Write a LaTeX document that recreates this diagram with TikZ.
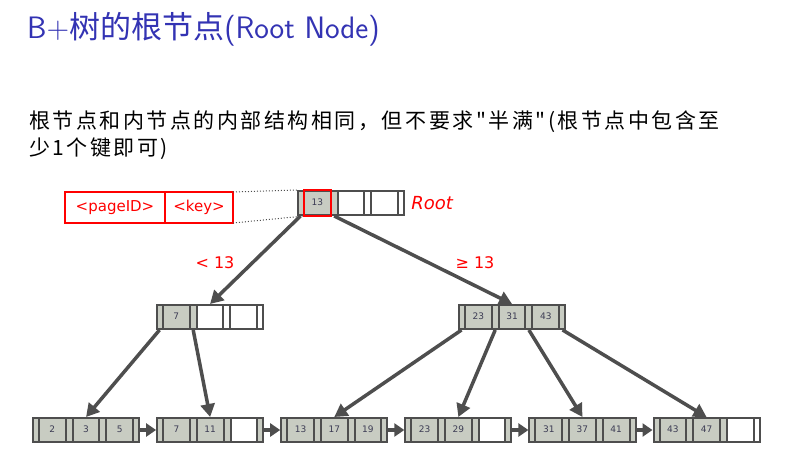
\documentclass[tikz,border=0pt]{standalone}
\usepackage{fontspec}
\newfontfamily\cjk{Noto Sans CJK SC}
\newfontfamily\cjkbody[LetterSpace=12]{Noto Sans CJK SC}
\newfontfamily\dejavu{DejaVu Sans}
\usetikzlibrary{shapes.multipart, arrows.meta, positioning}

\definecolor{titleblue}{RGB}{51,51,179}
\definecolor{cellgray}{RGB}{200,204,194}
\definecolor{edgegray}{RGB}{78,78,78}
\definecolor{keytext}{RGB}{60,60,84}

\newcommand{\pcell}{\makebox[5pt]{\strut}}
\newcommand{\kcell}[1]{\makebox[24.7pt]{\strut#1}}

\begin{document}
\begin{tikzpicture}[
        x=1pt, y=-1pt,
        bnode/.style={rectangle split, rectangle split horizontal, rectangle split parts=7, draw=edgegray, line width=2pt, inner xsep=0pt, inner ysep=0pt, minimum height=24pt, font=\dejavu\fontsize{9}{11}\selectfont, text=keytext},
        half/.style={rectangle split part fill={cellgray,cellgray,cellgray,white,white,white,white}},
        twokeys/.style={rectangle split part fill={cellgray,cellgray,cellgray,cellgray,cellgray,white,cellgray}},
        lastleaf/.style={rectangle split part fill={cellgray,cellgray,cellgray,cellgray,cellgray,white,white}},
        full/.style={rectangle split part fill={cellgray}},
        labelbox/.style={rectangle, draw=red, line width=1.5pt, outer sep=0pt, text=red, minimum height=31pt, font=\dejavu\fontsize{15}{18}\selectfont},
        redtext/.style={text=red, inner sep=0pt, font=\dejavu\fontsize{16}{19}\selectfont},
        link/.style={draw=edgegray, line width=3.5pt, -{Triangle[length=13pt,width=14pt]}},
        leaflink/.style={draw=edgegray, line width=3.5pt, -{Triangle[length=10pt,width=13pt]}}
    ]
    \useasboundingbox (0,0) rectangle (808,472);

    \node (title) [anchor=base west, inner sep=0pt, text=titleblue, font=\fontsize{31}{37}\selectfont] at (27,38) {\sffamily B+{\cjk 树的根节点}(Root Node)};
    \node (intro) [anchor=north west, inner sep=0pt, align=left, font=\cjkbody\fontsize{21}{27}\selectfont] at (29,111) {根节点和内节点的内部结构相同，但不要求"半满"(根节点中包含至\\少1个键即可)};

    % root and its entry format
    \node (root) [bnode, half, anchor=west] at (297,203) {\pcell\nodepart{two}\kcell{13}\nodepart{three}\pcell\nodepart{four}\kcell{}\nodepart{five}\pcell\nodepart{six}\kcell{}\nodepart{seven}\pcell};
    \draw[red, line width=2pt] (root.one split north) rectangle (root.two split south);
    \node (rootname) [redtext, font=\dejavu\itshape\fontsize{18}{21}\selectfont, right=6pt of root] {Root};
    \node (pageid) [labelbox, minimum width=100pt, anchor=north west] at (65,192) {<pageID>};
    \node (keyfield) [labelbox, minimum width=68pt, right=0pt of pageid] {<key>};
    \draw[dotted, line width=1pt, edgegray] (keyfield.north east) -- (root.north west);
    \draw[dotted, line width=1pt, edgegray] (keyfield.south east) -- (root.one split south);

    % inner nodes
    \node (inner7) [bnode, half, anchor=west] at (156,317) {\pcell\nodepart{two}\kcell{7}\nodepart{three}\pcell\nodepart{four}\kcell{}\nodepart{five}\pcell\nodepart{six}\kcell{}\nodepart{seven}\pcell};
    \node (inner23) [bnode, full, anchor=west] at (458,317) {\pcell\nodepart{two}\kcell{23}\nodepart{three}\pcell\nodepart{four}\kcell{31}\nodepart{five}\pcell\nodepart{six}\kcell{43}\nodepart{seven}\pcell};
    \node (less) [redtext] at (215,263) {< 13};
    \node (geq) [redtext] at (475,263) {≥ 13};

    % leaves
    \node (leafa) [bnode, full, anchor=west] at (32,430) {\pcell\nodepart{two}\kcell{2}\nodepart{three}\pcell\nodepart{four}\kcell{3}\nodepart{five}\pcell\nodepart{six}\kcell{5}\nodepart{seven}\pcell};
    \node (leafb) [bnode, twokeys, right=16pt of leafa] {\pcell\nodepart{two}\kcell{7}\nodepart{three}\pcell\nodepart{four}\kcell{11}\nodepart{five}\pcell\nodepart{six}\kcell{}\nodepart{seven}\pcell};
    \node (leafc) [bnode, full, right=16pt of leafb] {\pcell\nodepart{two}\kcell{13}\nodepart{three}\pcell\nodepart{four}\kcell{17}\nodepart{five}\pcell\nodepart{six}\kcell{19}\nodepart{seven}\pcell};
    \node (leafd) [bnode, twokeys, right=16pt of leafc] {\pcell\nodepart{two}\kcell{23}\nodepart{three}\pcell\nodepart{four}\kcell{29}\nodepart{five}\pcell\nodepart{six}\kcell{}\nodepart{seven}\pcell};
    \node (leafe) [bnode, full, right=16pt of leafd] {\pcell\nodepart{two}\kcell{31}\nodepart{three}\pcell\nodepart{four}\kcell{37}\nodepart{five}\pcell\nodepart{six}\kcell{41}\nodepart{seven}\pcell};
    \node (leaff) [bnode, lastleaf, right=16pt of leafe] {\pcell\nodepart{two}\kcell{43}\nodepart{three}\pcell\nodepart{four}\kcell{47}\nodepart{five}\pcell\nodepart{six}\kcell{}\nodepart{seven}\pcell};

    \draw [link] (root.one south) -- (inner7.north);
    \draw [link] (root.three south) -- (inner23.north);
    \draw [link] (inner7.one south) -- (leafa.north);
    \draw [link] (inner7.three south) -- (leafb.north);
    \draw [link] (inner23.one south) -- (leafc.north);
    \draw [link] (inner23.three south) -- (leafd.north);
    \draw [link] (inner23.five south) -- (leafe.north);
    \draw [link] (inner23.seven south) -- (leaff.north);

    \draw [leaflink] (leafa) -- (leafb);
    \draw [leaflink] (leafb) -- (leafc);
    \draw [leaflink] (leafc) -- (leafd);
    \draw [leaflink] (leafd) -- (leafe);
    \draw [leaflink] (leafe) -- (leaff);

    \end{tikzpicture}
\end{document}
